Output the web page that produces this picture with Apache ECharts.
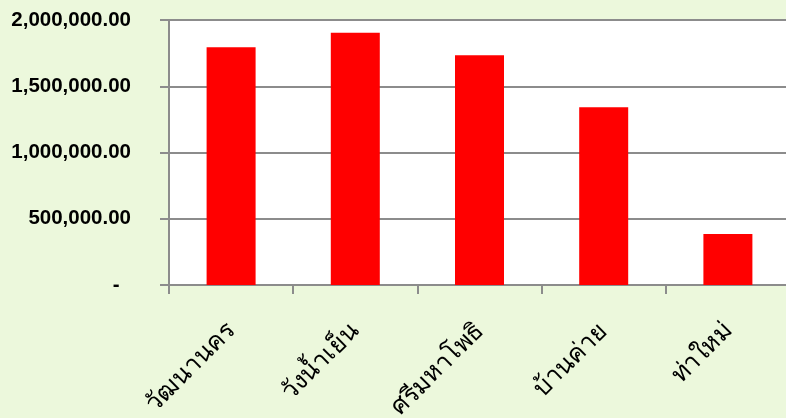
<!DOCTYPE html>
<html>
<head>
<meta charset="utf-8">
<script src="https://cdn.jsdelivr.net/npm/echarts@6/dist/echarts.min.js"></script>
<style>
  html, body { margin: 0; padding: 0; background: #ECF8DC; }
  #chart { width: 786px; height: 418px; }
</style>
</head>
<body>
<div id="chart"></div>
<script>
// Districts shown along the category axis
const districts = ['วัฒนานคร', 'วังน้ำเย็น', 'ศรีมหาโพธิ', 'บ้านค่าย', 'ท่าใหม่'];
// Amount per district
const amounts = [1795000, 1904000, 1734000, 1341000, 385000];
// Value axis range and step
const yMin = 0;
const yMax = 2000000;
const yStep = 500000;

// Accounting-style label: zero shows as a dash
function fmtAmount(v) {
  if (v === 0) return '-  ';
  return v.toLocaleString('en-US', { minimumFractionDigits: 2, maximumFractionDigits: 2 });
}

const chart = echarts.init(document.getElementById('chart'), null, { renderer: 'canvas' });
chart.setOption({
  backgroundColor: '#ECF8DC',
  animation: false,
  grid: {
    left: 169, top: 20, width: 621, height: 265,
    show: true, backgroundColor: '#ffffff', borderWidth: 0,
    containLabel: false,
    outerBoundsMode: 'none'
  },
  xAxis: {
    type: 'category',
    data: districts,
    axisLine: { show: true, lineStyle: { color: '#8c8c8c', width: 2 } },
    axisTick: { show: true, length: 9, lineStyle: { color: '#8c8c8c', width: 2 } },
    axisLabel: {
      rotate: 45, margin: 42, interval: 0,
      color: '#000', fontSize: 25,
      fontFamily: 'Tahoma, "Noto Sans", "DejaVu Sans", sans-serif'
    }
  },
  yAxis: {
    type: 'value',
    min: yMin, max: yMax, interval: yStep,
    axisLine: { show: true, lineStyle: { color: '#8c8c8c', width: 2 } },
    axisTick: { show: true, length: 9, lineStyle: { color: '#8c8c8c', width: 2 } },
    splitLine: { show: true, lineStyle: { color: '#8c8c8c', width: 2 } },
    axisLabel: {
      margin: 38, color: '#000', fontSize: 20.5, fontWeight: 'bold',
      fontFamily: 'Arial, "Liberation Sans", sans-serif',
      formatter: fmtAmount
    }
  },
  series: [{
    type: 'bar',
    data: amounts,
    barWidth: 49,
    itemStyle: { color: '#FF0000' }
  }]
});
</script>
</body>
</html>
